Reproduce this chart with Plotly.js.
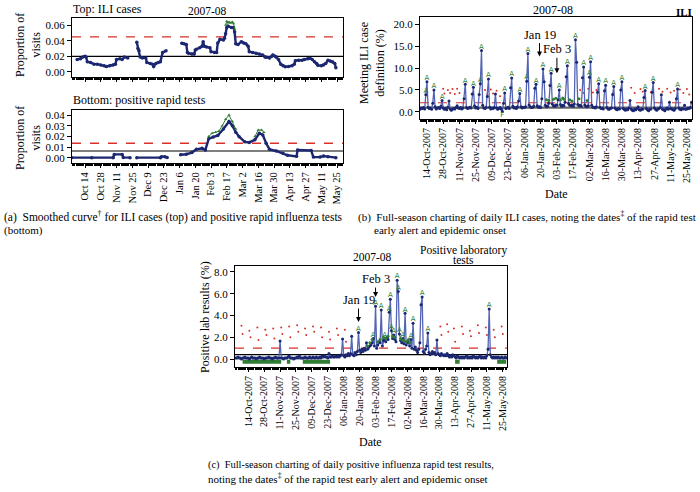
<!DOCTYPE html>
<html><head><meta charset="utf-8">
<script src="https://cdn.plot.ly/plotly-3.0.1.min.js"></script>
<style>html,body{margin:0;padding:0;background:#fff}#chart{width:700px;height:492px}</style>
</head><body><div id="chart"></div>
<script>
// ---------- DATA ----------
// (a) top: smoothed proportion of visits, ILI cases (null = gap)
const aTopDates = ['2007-10-07','2007-10-10','2007-10-12','2007-10-14','2007-10-15','2007-10-16','2007-10-19','2007-10-22','2007-10-25','2007-10-28','2007-10-31','2007-11-02','2007-11-05','2007-11-08','2007-11-10','2007-11-11','2007-11-14','2007-11-16','2007-11-18','2007-11-21','2007-11-25',
'2007-11-29','2007-11-30','2007-12-01','2007-12-02','2007-12-04','2007-12-07','2007-12-08','2007-12-11','2007-12-13','2007-12-14','2007-12-16','2007-12-18','2007-12-20','2007-12-22','2007-12-25','2007-12-30',
'2008-01-08','2008-01-10','2008-01-12','2008-01-13','2008-01-14','2008-01-17','2008-01-19','2008-01-20','2008-01-21','2008-01-24','2008-01-26','2008-01-27','2008-01-28','2008-01-30','2008-02-02','2008-02-03','2008-02-06','2008-02-08','2008-02-09','2008-02-11','2008-02-14','2008-02-15','2008-02-16','2008-02-17','2008-02-18','2008-02-21','2008-02-23','2008-02-24','2008-02-25','2008-02-27','2008-03-01','2008-03-03','2008-03-05','2008-03-07','2008-03-08','2008-03-11','2008-03-14','2008-03-17','2008-03-20','2008-03-22','2008-03-23','2008-03-26','2008-03-28','2008-03-29','2008-03-31','2008-04-01','2008-04-03','2008-04-05','2008-04-07','2008-04-09','2008-04-12','2008-04-15','2008-04-17','2008-04-18','2008-04-21','2008-04-24','2008-04-26','2008-04-29','2008-05-01','2008-05-03','2008-05-05','2008-05-07','2008-05-08','2008-05-11','2008-05-13','2008-05-15','2008-05-17','2008-05-19','2008-05-21','2008-05-23','2008-05-24'];
const aTopVals = [0.016,0.017,0.019,0.020,0.019,0.013,0.012,0.010,0.010,0.009,0.008,0.007,0.008,0.009,0.010,0.016,0.017,0.016,0.019,0.018,null,
0.038,0.030,0.027,0.019,0.018,0.018,0.012,0.011,0.010,0.007,0.011,0.012,0.013,0.025,0.027,null,
0.0366,0.036,0.035,0.025,0.024,0.023,0.023,0.028,0.029,0.031,0.033,0.0387,0.033,0.032,0.031,0.026,0.025,0.025,0.037,0.0417,0.041,0.043,0.049,0.057,0.0587,0.057,0.057,0.051,0.036,0.035,0.0387,0.037,0.036,0.033,0.026,0.025,0.024,0.023,0.0217,0.019,0.0188,0.018,0.020,0.0217,0.020,0.019,0.016,0.010,0.008,0.0068,0.007,0.008,0.010,0.0145,0.015,0.015,0.016,0.017,0.0175,0.016,0.013,0.011,0.0085,0.008,0.009,0.011,0.015,0.014,0.013,0.011,0.0055];
const aTopAlertDates = ['2008-02-16','2008-02-17','2008-02-18','2008-02-19','2008-02-20','2008-02-21','2008-02-22','2008-02-23','2008-02-24'];
const aTopAlertVals = [0.060,0.065,0.063,0.064,0.063,0.063,0.064,0.062,0.055];
const aTopThreshHigh = 0.045, aTopThreshBase = 0.020;

// (a) bottom: smoothed proportion of visits, positive rapid tests
const aBotDates = ['2007-10-02','2007-10-20','2007-11-08','2007-11-09','2007-11-16','2007-11-17','2007-11-23','2007-11-26',
'2007-11-29','2007-12-20','2007-12-21','2007-12-24','2007-12-26','2007-12-31',
'2008-01-07','2008-01-12','2008-01-17','2008-01-21','2008-01-26','2008-01-29','2008-02-01','2008-02-05','2008-02-09','2008-02-14','2008-02-19','2008-02-22','2008-02-25','2008-02-28','2008-03-04','2008-03-08','2008-03-13','2008-03-17','2008-03-20','2008-03-23','2008-03-26','2008-04-01','2008-04-07','2008-04-11','2008-04-19','2008-04-20','2008-05-02','2008-05-04','2008-05-10','2008-05-13','2008-05-17','2008-05-24'];
const aBotVals = [0.0003,0.0002,0.0003,0.0033,0.0033,0.0005,0.0003,null,
0.0003,0.0003,0.0012,0.0012,0.0004,null,
0.003,0.0035,0.005,0.008,0.009,0.0075,0.018,0.0195,0.021,0.027,0.034,0.030,0.024,0.0198,0.015,0.0145,0.017,0.023,0.0215,0.0137,0.008,0.0065,0.0043,0.0025,0.0015,0.0074,0.0070,0.0008,0.0008,0.0018,0.0012,0.0003];
const aBotAlertDates = ['2008-02-01','2008-02-04','2008-02-07','2008-02-10','2008-02-13','2008-02-16','2008-02-19','2008-02-22','2008-02-25','2008-03-02','2008-03-13','2008-03-16','2008-03-19','2008-03-21'];
const aBotAlertVals = [0.020,0.023,0.024,0.025,0.030,0.036,0.040,0.034,0.027,null,0.020,0.026,0.026,0.024];
const aBotThreshHigh = 0.0137, aBotThreshBase = 0.0065;

// (b) daily % of visits meeting ILI case definition, from 2007-10-08
const iliStart = '2007-10-08';
const iliVals = [0.6,0.9,0.8,1.0,0.7,3.9,6.9,1.1,0.8,0.9,
0.6,2.0,5.0,1.2,0.7,0.9,1.0,0.8,1.3,2.6,
0.9,0.6,0.8,0.5,1.1,2.5,0.7,0.4,0.6,0.8,
0.7,1.0,1.4,0.9,0.8,1.0,0.7,0.9,3.0,6.3,
1.0,0.8,0.9,1.1,0.9,4.1,5.6,1.4,0.9,1.1,
0.8,4.0,6.4,14.0,1.5,0.9,0.8,1.0,3.5,7.5,
1.1,0.7,0.9,0.8,1.0,4.1,0.9,0.6,0.8,1.0,
0.7,0.1,2.0,4.3,0.8,0.9,1.1,0.8,5.5,7.7,
1.3,0.9,1.0,0.8,1.2,2.5,4.2,1.2,0.9,1.1,
1.0,1.2,7.0,13.3,1.6,1.2,1.0,1.1,1.3,5.4,
6.3,1.4,1.1,1.2,1.0,3.0,9.8,6.9,1.5,1.2,
1.3,2.0,6.0,8.8,1.8,1.4,1.3,1.6,1.5,2.8,
5.0,1.7,1.3,1.5,1.4,2.2,8.0,10.5,1.9,1.5,
1.4,1.6,1.3,1.8,16.4,11.3,1.7,1.4,1.5,1.3,
7.8,10.2,1.6,1.3,1.2,1.4,7.9,11.4,1.5,1.1,
1.0,0.9,1.2,4.5,6.4,1.1,0.8,0.9,0.7,4.8,
6.1,1.0,0.7,0.6,0.8,0.9,4.0,5.8,0.9,0.6,
0.5,0.8,0.7,5.0,6.9,0.8,0.6,0.4,0.7,0.5,
0.9,2.6,0.7,0.4,0.3,0.6,0.5,0.8,1.2,0.5,
0.4,0.7,0.6,3.3,4.9,0.8,0.5,0.3,0.6,0.7,
4.5,6.7,0.9,0.6,0.4,0.7,0.8,1.0,3.9,0.6,
0.5,0.3,0.7,0.9,0.6,2.2,0.8,0.7,0.5,0.4,
0.8,3.0,5.2,0.9,0.6,0.5,0.8,0.7,1.5,0.6,
0.7,0.9,0.8,1.0,2.2];
const iliAlertIdx = [5,6,12,19,39,46,52,53,59,73,79,86,92,93,100,106,113,120,127,134,141,146,147,154,160,167,174,194,201,222];
const iliFlagIdx = [71];
const iliGreenIdx = [109,111,115,117,121,123,124,129,131,137,144];
const iliGreenVals = [2.8,2.6,2.9,3.1,2.7,3.2,2.9,2.8,2.5,3.0,2.6];
const iliUpperIdx = [20,21,24,26,28,30,32,34,56,58,61,63,66,69,138,141,145,149,152,182,185,190,192,199,206,209,213,216,219,224,227,230,232];
const iliUpperVals = [5.3,4.2,5.0,4.3,5.2,4.1,5.3,4.3,5.0,4.0,5.1,4.2,4.8,3.6,5.0,4.3,5.3,4.4,5.0,5.5,4.3,5.2,4.6,4.5,5.3,4.6,5.3,4.4,4.8,5.1,4.3,5.2,4.0];
const iliThreshHigh = 2.1, iliThreshBase = 1.0;

// (c) daily % positive rapid influenza tests, from 2007-10-03
const labStart = '2007-10-03';
const labVals = [0.1,0.1,0.2,0.1,0.1,0.0,0.1,0.1,0.2,0.1,
0.1,0.1,0.0,0.1,0.2,0.1,0.1,0.1,0.0,0.1,
0.1,0.2,0.1,0.1,0.1,0.0,0.1,0.1,0.1,0.2,
0.1,0.1,0.0,0.1,0.1,0.2,0.1,0.1,0.1,1.65,
0.1,0.1,0.0,0.1,0.1,0.1,0.2,0.3,0.1,0.1,
0.1,0.0,0.1,0.1,0.2,0.1,0.3,0.1,0.1,0.1,
0.1,0.2,0.1,0.1,0.1,0.2,0.1,0.1,0.2,0.1,
0.1,0.2,0.1,0.1,0.2,0.1,0.3,0.2,0.3,0.2,
0.2,0.1,0.5,0.2,0.2,0.3,0.2,0.2,0.3,0.2,
0.3,0.2,0.3,0.4,1.85,0.3,0.2,0.4,0.3,0.5,
0.3,0.5,2.1,0.4,0.3,0.6,0.4,0.7,2.45,0.8,
0.6,0.9,0.7,1.0,0.8,1.5,0.9,1.1,1.2,1.3,
1.5,1.9,1.2,4.85,1.0,1.3,1.6,1.5,4.5,1.2,
1.7,1.9,1.6,2.0,1.8,4.3,5.5,2.6,1.9,2.2,
1.8,1.6,7.25,6.2,2.3,1.7,1.5,1.9,1.4,4.2,
1.3,1.6,1.5,1.2,1.8,1.0,3.3,0.9,1.1,0.8,
0.6,0.9,1.5,5.0,5.7,0.7,0.5,0.9,1.2,2.4,
0.6,0.4,0.5,0.7,0.5,0.6,0.4,1.75,0.5,0.4,
0.3,0.5,0.4,0.3,0.4,0.3,0.5,0.3,0.2,0.3,
0.2,0.4,0.3,0.2,0.1,0.3,0.2,0.1,0.2,0.1,
0.2,0.1,0.2,0.3,0.1,0.2,0.1,0.2,0.1,0.3,
0.2,0.1,0.2,0.1,0.2,0.3,0.1,0.2,0.1,0.2,
0.1,0.3,0.9,4.6,0.4,0.2,0.1,0.2,0.1,0.2,
0.1,0.2,0.1,0.1,0.2,0.1,0.1,0.2,0.1];
const labAlertIdx = [108,121,123,128,131,135,136,137,139,142,143,144,147,149,154,156,164,169,223];
const labGreenIdx = [116,118,120,125,127,130,132,134,138,140,145,146,148,150,152,153];
const labGreenVals = [1.2,1.5,1.8,1.6,1.8,2.0,1.9,2.1,2.1,2.0,1.9,1.8,1.7,1.6,1.8,1.5];
const labFlagRanges = [[6,40],[45,48],[59,83],[193,197],[230,238]];
const labFlagLevel = -0.25;
const labUpperIdx = [5,6,12,13,19,20,26,27,33,34,40,41,47,48,54,55,61,62,68,69,75,76,82,83,89,90,96,97,180,181,186,187,192,193,199,200,206,207,213,214,220,221,227,228,234,235];
const labUpperVals = [3.05,2.3,2.6,2.0,2.9,1.75,2.7,2.2,2.8,1.9,2.9,2.3,3.0,2.0,3.1,2.5,2.8,2.2,3.0,2.5,2.9,2.0,2.5,1.8,2.8,2.2,2.7,1.6,3.0,2.2,3.2,2.5,2.8,1.6,3.0,2.3,2.6,2.1,3.1,2.4,2.9,2.2,2.7,2.0,3.0,2.3];
const labThreshHigh = 1.0, labThreshBase = 0.4;

// tick labels
const tickDates = ['2007-10-14','2007-10-28','2007-11-11','2007-11-25','2007-12-09','2007-12-23','2008-01-06','2008-01-20','2008-02-03','2008-02-17','2008-03-02','2008-03-16','2008-03-30','2008-04-13','2008-04-27','2008-05-11','2008-05-25'];
const tickTextA = ['Oct 14','Oct 28','Nov 11','Nov 25','Dec 9','Dec 23','Jan 6','Jan 20','Feb 3','Feb 17','Mar 2','Mar 16','Mar 30','Apr 13','Apr 27','May 11','May 25'];
const tickTextBC = ['14-Oct-2007','28-Oct-2007','11-Nov-2007','25-Nov-2007','09-Dec-2007','23-Dec-2007','06-Jan-2008','20-Jan-2008','03-Feb-2008','17-Feb-2008','02-Mar-2008','16-Mar-2008','30-Mar-2008','13-Apr-2008','27-Apr-2008','11-May-2008','25-May-2008'];

// ---------- helpers ----------
function addDays(s, n){ const d = new Date(s+'T00:00:00Z'); d.setUTCDate(d.getUTCDate()+n); return d.toISOString().slice(0,10); }
const iliDates = iliVals.map((v,i)=>addDays(iliStart,i));
const labDates = labVals.map((v,i)=>addDays(labStart,i));
const W=700,H=492;
const dx=(a,b)=>[a/W,b/W];
const dy=(top,bot)=>[1-bot/H,1-top/H];
const PX=x=>x/W, PY=y=>1-y/H;

const NAVY='#1b2770', LBLUE='#5464b4', GREEN='#2f7d32', RED='#d8312b';
const SERIF='Liberation Serif';

const traces=[];
// ---- (a) top
const rA=['2007-10-02 10:00','2008-05-30 08:00'];
traces.push({x:rA,y:[aTopThreshHigh,aTopThreshHigh],xaxis:'x',yaxis:'y',mode:'lines',line:{color:RED,dash:'dash',width:1.3},hoverinfo:'skip'});
traces.push({x:rA,y:[aTopThreshBase,aTopThreshBase],xaxis:'x',yaxis:'y',mode:'lines',line:{color:'#000',width:1.2},hoverinfo:'skip'});
traces.push({x:aTopDates,y:aTopVals,xaxis:'x',yaxis:'y',mode:'lines+markers',line:{color:NAVY,width:2.4},marker:{color:NAVY,size:3.5},connectgaps:false});
traces.push({x:aTopAlertDates,y:aTopAlertVals,xaxis:'x',yaxis:'y',mode:'lines+markers',line:{color:GREEN,width:1},marker:{color:GREEN,size:3,symbol:'triangle-up'}});
// ---- (a) bottom
traces.push({x:rA,y:[aBotThreshHigh,aBotThreshHigh],xaxis:'x2',yaxis:'y2',mode:'lines',line:{color:RED,dash:'dash',width:1.3},hoverinfo:'skip'});
traces.push({x:rA,y:[aBotThreshBase,aBotThreshBase],xaxis:'x2',yaxis:'y2',mode:'lines',line:{color:'#000',width:1.2},hoverinfo:'skip'});
traces.push({x:aBotDates,y:aBotVals,xaxis:'x2',yaxis:'y2',mode:'lines+markers',line:{color:NAVY,width:2.4},marker:{color:NAVY,size:3.5},connectgaps:false});
traces.push({x:aBotAlertDates,y:aBotAlertVals,xaxis:'x2',yaxis:'y2',mode:'lines+markers',line:{color:GREEN,width:1},marker:{color:GREEN,size:3,symbol:'triangle-up'},connectgaps:false});
// ---- (b)
const rB=['2007-10-08','2008-05-29 10:00'];
traces.push({x:rB,y:[iliThreshBase,iliThreshBase],xaxis:'x3',yaxis:'y3',mode:'lines',line:{color:'#666',width:2.2},hoverinfo:'skip'});
traces.push({x:rB,y:[iliThreshHigh,iliThreshHigh],xaxis:'x3',yaxis:'y3',mode:'lines',line:{color:RED,dash:'dash',width:1.2},hoverinfo:'skip'});
traces.push({x:iliUpperIdx.map(i=>iliDates[i]),y:iliUpperVals,xaxis:'x3',yaxis:'y3',mode:'markers',marker:{color:RED,size:2}});
traces.push({x:iliDates,y:iliVals,xaxis:'x3',yaxis:'y3',mode:'lines+markers',line:{color:LBLUE,width:1.3},marker:{color:NAVY,size:3}});
traces.push({x:iliGreenIdx.map(i=>iliDates[i]),y:iliGreenVals,xaxis:'x3',yaxis:'y3',mode:'markers',marker:{color:GREEN,size:3}});
traces.push({x:iliAlertIdx.map(i=>iliDates[i]),y:iliAlertIdx.map(i=>iliVals[i]),xaxis:'x3',yaxis:'y3',mode:'text',text:iliAlertIdx.map(()=>'A'),textposition:'top center',textfont:{color:GREEN,size:7,family:'DejaVu Sans'}});
traces.push({x:iliFlagIdx.map(i=>iliDates[i]),y:iliFlagIdx.map(i=>iliVals[i]),xaxis:'x3',yaxis:'y3',mode:'text',text:iliFlagIdx.map(()=>'F'),textposition:'bottom center',textfont:{color:GREEN,size:7,family:'DejaVu Sans'}});
// ---- (c)
const rC=['2007-10-02 08:00','2008-05-28 16:00'];
traces.push({x:rC,y:[labThreshHigh,labThreshHigh],xaxis:'x4',yaxis:'y4',mode:'lines',line:{color:RED,dash:'dash',width:1.2},hoverinfo:'skip'});
traces.push({x:rC,y:[labThreshBase,labThreshBase],xaxis:'x4',yaxis:'y4',mode:'lines',line:{color:'#000',width:1.2},hoverinfo:'skip'});
traces.push({x:labUpperIdx.map(i=>labDates[i]),y:labUpperVals,xaxis:'x4',yaxis:'y4',mode:'markers',marker:{color:RED,size:2}});
const fx=[],fy=[];
labFlagRanges.forEach(r=>{fx.push(labDates[r[0]],labDates[r[1]],null);fy.push(labFlagLevel,labFlagLevel,null);});
traces.push({x:fx,y:fy,xaxis:'x4',yaxis:'y4',mode:'lines',line:{color:GREEN,width:4},connectgaps:false});
traces.push({x:labDates,y:labVals,xaxis:'x4',yaxis:'y4',mode:'lines+markers',line:{color:LBLUE,width:1.3},marker:{color:NAVY,size:3}});
traces.push({x:labGreenIdx.map(i=>labDates[i]),y:labGreenVals,xaxis:'x4',yaxis:'y4',mode:'markers',marker:{color:GREEN,size:3}});
traces.push({x:labAlertIdx.map(i=>labDates[i]),y:labAlertIdx.map(i=>labVals[i]),xaxis:'x4',yaxis:'y4',mode:'text',text:labAlertIdx.map(()=>'A'),textposition:'top center',textfont:{color:GREEN,size:7,family:'DejaVu Sans'}});

// ---------- layout ----------
const axBase={showline:true,mirror:true,linecolor:'#000',linewidth:1,showgrid:false,zeroline:false,ticks:'outside',ticklen:4,tickcolor:'#000',tickfont:{family:SERIF,size:11,color:'#000'}};
const minorX={ticks:'outside',ticklen:2,dtick:86400000,tickcolor:'#000'};
const layout={
  width:W,height:H,margin:{l:0,r:0,t:0,b:0},paper_bgcolor:'#fff',plot_bgcolor:'#fff',showlegend:false,
  font:{family:SERIF,size:11,color:'#000'},
  xaxis:Object.assign({},axBase,{domain:dx(72,343),anchor:'y',type:'date',range:rA,tickvals:tickDates,ticktext:tickTextA,showticklabels:false,minor:minorX}),
  yaxis:Object.assign({},axBase,{domain:dy(18,77),anchor:'x',range:[-0.0064,0.069],tickvals:[0,0.02,0.04,0.06],tickformat:'.2f'}),
  xaxis2:Object.assign({},axBase,{domain:dx(72,343),anchor:'y2',type:'date',range:rA,tickvals:tickDates,ticktext:tickTextA,tickangle:-90,minor:minorX,tickfont:{family:SERIF,size:10.5,color:'#000'}}),
  yaxis2:Object.assign({},axBase,{domain:dy(110,163),anchor:'x2',range:[-0.0047,0.0447],tickvals:[0,0.01,0.02,0.03,0.04],tickformat:'.2f'}),
  xaxis3:Object.assign({},axBase,{domain:dx(420,692),anchor:'y3',type:'date',range:rB,tickvals:tickDates,ticktext:tickTextBC,tickangle:-90,minor:minorX,tickfont:{family:SERIF,size:10,color:'#000'}}),
  yaxis3:Object.assign({},axBase,{domain:dy(17,119),anchor:'x3',range:[-1.6,21.6],tickvals:[0,5,10,15,20],tickformat:'.1f'}),
  xaxis4:Object.assign({},axBase,{domain:dx(235,507),anchor:'y4',type:'date',range:rC,tickvals:tickDates,ticktext:tickTextBC,tickangle:-90,minor:minorX,tickfont:{family:SERIF,size:10,color:'#000'}}),
  yaxis4:Object.assign({},axBase,{domain:dy(266,367),anchor:'x4',range:[-0.73,8.55],tickvals:[0,2,4,6,8],tickformat:'.1f'}),
  annotations:[]
};
const A=layout.annotations;
function txt(t,x,y,o){A.push(Object.assign({text:t,xref:'paper',yref:'paper',x:PX(x),y:PY(y),showarrow:false,xanchor:'center',yanchor:'middle',font:{family:SERIF,size:12,color:'#000'}},o||{}));}
const F=s=>({family:SERIF,size:s,color:'#000'});
// (a)
txt('Top: ILI cases',71,9,{xanchor:'left'});
txt('2007-08',207,11,{font:F(11.5)});
txt('Bottom: positive rapid tests',71,100,{xanchor:'left'});
txt('Proportion of<br>visits',28,45,{textangle:-90});
txt('Proportion of<br>visits',28,138,{textangle:-90});
txt('(a)  Smoothed curve<sup>†</sup> for ILI cases (top) and positive rapid influenza tests',2,216.5,{xanchor:'left',font:F(11.5)});
txt('(bottom)',2,230,{xanchor:'left',font:F(11)});
// (b)
txt('2007-08',553,10,{font:F(12)});
txt('<b>ILI</b>',684,12,{font:F(11)});
txt('Meeting ILI case<br>definition (%)',372,63,{textangle:-90});
txt('Date',556,194,{font:F(12)});
txt('(b)  Full-season charting of daily ILI cases, noting the dates<sup>‡</sup> of the rapid test',356,216.5,{xanchor:'left',font:F(11)});
txt('early alert and epidemic onset',372,229.5,{xanchor:'left',font:F(11)});
// (c)
txt('2007-08',372,257,{font:F(11.5)});
txt('Positive laboratory',463,250,{font:F(11.5)});
txt('tests',463,260,{font:F(11.5)});
txt('Positive lab results (%)',205,317,{textangle:-90});
txt('Date',370,442,{font:F(12)});
txt('(c)  Full-season charting of daily positive influenza rapid test results,',206,465,{xanchor:'left',font:F(10.4)});
txt('noting the dates<sup>‡</sup> of the rapid test early alert and epidemic onset',206,477.5,{xanchor:'left',font:F(11)});
// arrows
function arr(t,xr,yr,xd,yv,ay){A.push({text:t,xref:xr,yref:yr,x:xd,y:yv,showarrow:true,arrowhead:2,arrowsize:1,arrowwidth:1,arrowcolor:'#000',ax:0,ay:ay,font:F(12.5)});}
arr('Jan 19','x3','y3','2008-01-19',12.6,-22);
arr('Feb 3','x3','y3','2008-02-03',8.8,-24);
arr('Jan 19','x4','y4','2008-01-19',3.4,-22);
arr('Feb 3','x4','y4','2008-02-03',5.7,-18);

Plotly.newPlot('chart',traces,layout,{staticPlot:true,displayModeBar:false});
</script></body></html>
